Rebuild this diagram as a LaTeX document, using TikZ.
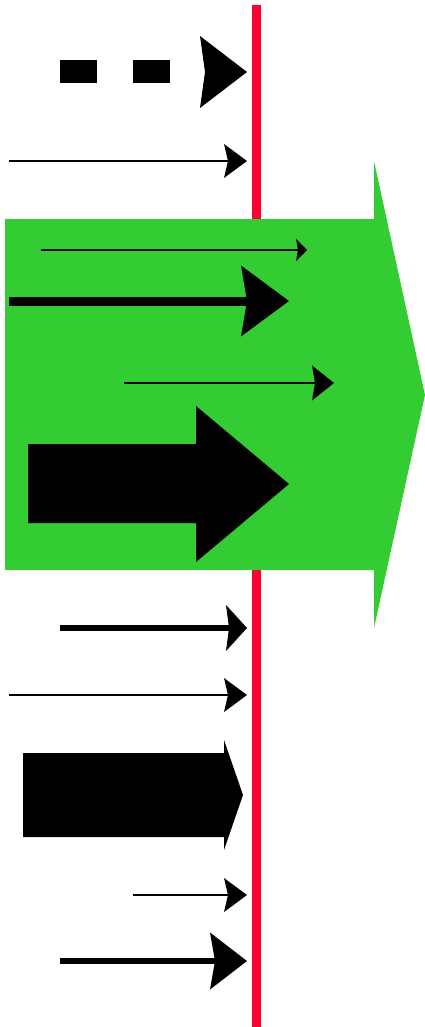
\documentclass[tikz,border=0pt]{standalone}
\usetikzlibrary{arrows.meta}
\definecolor{barred}{RGB}{255,0,51}
\definecolor{flowgreen}{RGB}{51,204,51}
\tikzset{
  thinarr/.style={line width=1.5pt,-{Stealth[length=23pt,width=34pt,inset=4pt,line width=0pt]}},
  blockarr/.style={fill=black,draw=none},
}
\begin{document}
\begin{tikzpicture}[x=1pt,y=-1pt]
\useasboundingbox (0,0) rectangle (425,1027);
% red barrier
\coordinate (rtop) at (256.5,5);
\coordinate (rbot) at (256.5,1027);
\draw[barred,line width=9pt] (rtop) -- (rbot);
% top arrows
\coordinate (a1s) at (60,72);  \coordinate (a1e) at (247,72);
\draw[line width=23pt,dash pattern=on 37pt off 36pt,-{Stealth[length=47pt,width=72pt,inset=5pt,line width=0pt]}] (a1s) -- (a1e);
\coordinate (a2s) at (9,161);  \coordinate (a2e) at (247,161);
\draw[thinarr] (a2s) -- (a2e);
% green band
\fill[flowgreen] (5,219) -- (374,219) -- (374,161) -- (425,395) -- (374,628) -- (374,570) -- (5,570) -- cycle;
% arrows inside green
\coordinate (g1s) at (41,250);  \coordinate (g1e) at (307,250);
\draw[line width=1.5pt,-{Stealth[length=11pt,width=22pt,inset=2pt,line width=0pt]}] (g1s) -- (g1e);
\coordinate (g2s) at (9,301);  \coordinate (g2e) at (289,301);
\draw[line width=9pt,-{Stealth[length=48pt,width=71pt,inset=6pt,line width=0pt]}] (g2s) -- (g2e);
\coordinate (g3s) at (124,383);  \coordinate (g3e) at (334,383);
\draw[line width=2pt,-{Stealth[length=22pt,width=35pt,inset=3pt,line width=0pt]}] (g3s) -- (g3e);
\fill[blockarr] (28,444) -- (196,444) -- (196,406) -- (289,484) -- (196,562) -- (196,523) -- (28,523) -- cycle;
% lower arrows
\coordinate (b1s) at (60,628);  \coordinate (b1e) at (247,628);
\draw[line width=6pt,-{Stealth[length=21pt,width=46pt,inset=3pt,line width=0pt]}] (b1s) -- (b1e);
\coordinate (b2s) at (9,695);  \coordinate (b2e) at (247,695);
\draw[thinarr] (b2s) -- (b2e);
\fill[blockarr] (23,753) -- (224,753) -- (224,740) -- (243,795) -- (224,850) -- (224,837) -- (23,837) -- cycle;
\coordinate (b3s) at (133,895);  \coordinate (b3e) at (247,895);
\draw[thinarr] (b3s) -- (b3e);
\coordinate (b4s) at (60,961);  \coordinate (b4e) at (247,961);
\draw[line width=6pt,-{Stealth[length=37pt,width=57pt,inset=5pt,line width=0pt]}] (b4s) -- (b4e);
\end{tikzpicture}
\end{document}
